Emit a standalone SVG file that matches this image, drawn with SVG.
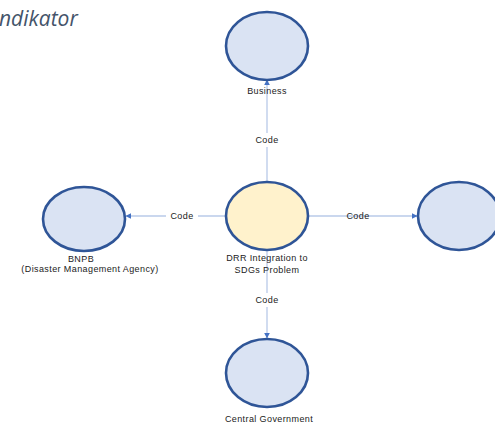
<svg xmlns="http://www.w3.org/2000/svg" width="495" height="423" viewBox="0 0 495 423">
  <defs>
    <marker id="arrow" viewBox="0 0 10 10" refX="9" refY="5" markerWidth="6" markerHeight="6" markerUnits="userSpaceOnUse" orient="auto">
      <path d="M0,0 L10,5 L0,10 z" fill="#4472C4"/>
    </marker>
    <style>
      .node { fill: #DAE3F3; stroke: #2F5597; stroke-width: 2.6; }
      .core { fill: #FFF2CC; stroke: #2F5597; stroke-width: 2.6; }
      .edge { stroke: #B9CAE8; stroke-width: 1.3; fill: none; marker-end: url(#arrow); }
      .lbl { font-family: "Liberation Sans", Arial, sans-serif; font-size: 9px; fill: #222; text-anchor: middle; letter-spacing: 0.4px; }
      .gap { fill: #FFFFFF; }
      .title { font-family: "Open Sans", "Liberation Sans", sans-serif; font-style: italic; font-size: 21px; fill: #44546A; }
    </style>
  </defs>

  <rect width="495" height="423" fill="#FFFFFF"/>

  <text class="title" x="-1" y="26">ndikator</text>

  <!-- connectors with their labels -->
  <g id="connectors">
    <line class="edge" x1="267" y1="182" x2="267" y2="80"/>
    <rect class="gap" x="252" y="133" width="30" height="14"/>
    <text class="lbl" x="267" y="143">Code</text>

    <line class="edge" x1="226" y1="216" x2="126" y2="216"/>
    <rect class="gap" x="166" y="210" width="32" height="12"/>
    <text class="lbl" x="182" y="219">Code</text>

    <line class="edge" x1="308" y1="216" x2="417" y2="216"/>
    <text class="lbl" x="358" y="219">Code</text>

    <line class="edge" x1="267" y1="250" x2="267" y2="338"/>
    <rect class="gap" x="252" y="293" width="30" height="14"/>
    <text class="lbl" x="267" y="303">Code</text>
  </g>

  <g id="business">
    <ellipse class="node" cx="267" cy="46" rx="41" ry="34"/>
    <text class="lbl" x="267" y="94">Business</text>
  </g>

  <g id="drr-problem">
    <ellipse class="core" cx="267" cy="216" rx="41" ry="34"/>
    <text class="lbl" x="267" y="261">DRR Integration to</text>
    <text class="lbl" x="267" y="273">SDGs Problem</text>
  </g>

  <g id="bnpb">
    <ellipse class="node" cx="84" cy="219" rx="41" ry="32"/>
    <text class="lbl" x="81" y="262">BNPB</text>
    <text class="lbl" x="90" y="272">(Disaster Management Agency)</text>
  </g>

  <g id="right-node">
    <ellipse class="node" cx="459" cy="216" rx="41" ry="34"/>
  </g>

  <g id="central-government">
    <ellipse class="node" cx="267" cy="373" rx="41" ry="34"/>
    <text class="lbl" x="269" y="422">Central Government</text>
  </g>
</svg>
